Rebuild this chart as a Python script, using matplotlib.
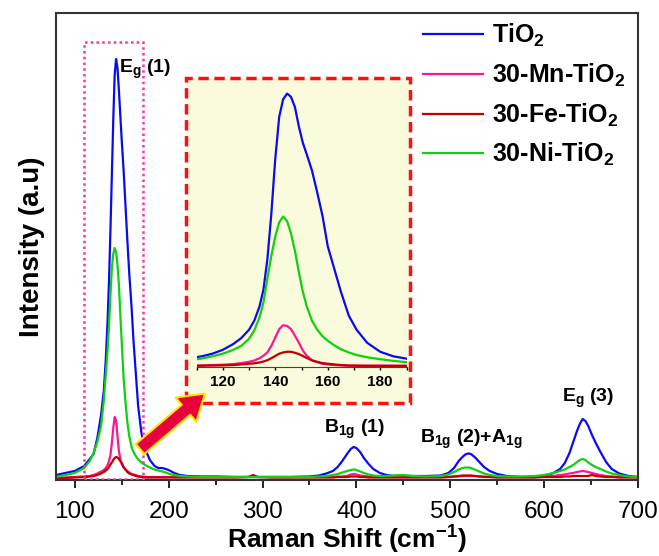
import matplotlib
matplotlib.use("Agg")
import matplotlib.pyplot as plt
from matplotlib.patches import Rectangle, FancyArrowPatch
from matplotlib.ticker import MultipleLocator

plt.rcParams['font.family'] = ['Liberation Sans', 'DejaVu Sans']
plt.rcParams['mathtext.fontset'] = 'custom'
plt.rcParams['mathtext.rm'] = 'Liberation Sans:bold'
plt.rcParams['mathtext.bf'] = 'Liberation Sans:bold'
plt.rcParams['mathtext.default'] = 'bf'

# ---- data (arbitrary intensity units) ----
labels = ['TiO$_2$', '30-Mn-TiO$_2$', '30-Fe-TiO$_2$', '30-Ni-TiO$_2$']
colors = ['#0a0af0', '#ff1493', '#c00000', '#10d010']

shift = [80, 90, 100, 110, 116, 120, 124, 128, 131, 133, 135, 136.5, 138, 139.5,
         141, 142.5, 144, 145.5, 147, 148.5, 150, 152, 154, 156, 158, 160.5, 162.5,
         165, 167.5, 171, 175, 180, 185, 189, 193, 197, 201, 206, 212, 220, 235,
         250, 270, 285, 290, 295, 310, 330, 350, 360, 368, 375, 380, 385, 390, 394,
         397, 400, 404, 408, 413, 418, 425, 432, 440, 450, 460, 475, 490, 498, 504,
         509, 513, 516, 519, 522, 526, 531, 536, 542, 550, 560, 575, 590, 600, 610,
         617, 622, 627, 631, 635, 638, 641, 644, 647, 651, 655, 660, 666, 672, 680,
         690, 700]

tio2 = [5, 7, 9, 14, 21, 26, 42, 65, 90, 120, 160, 200, 250, 305,
        360, 405, 421, 412, 390, 365, 340, 310, 275, 240, 207, 173, 140,
        107, 74, 47, 31, 20, 14, 12, 12, 11, 9.5, 7, 5, 4, 3.5,
        3.5, 3, 3, 3, 3, 3, 3, 3.5, 4.5, 6.5, 9, 13, 19, 26, 31,
        33, 32, 28, 22, 16, 11, 7, 5, 4, 4, 4, 4, 4.5, 7, 12,
        19, 23, 25.5, 26.5, 26, 23, 18, 13, 9, 6, 4, 3, 3, 4, 7,
        11, 17, 27, 38, 49, 56, 61, 59, 54, 45, 37, 28, 18, 11, 6.5,
        4, 3]

mn_tio2 = [2, 2.5, 3, 3.5, 4, 5, 6.5, 8.5, 10, 12, 15, 19, 25, 37,
           52, 63, 60, 44, 29, 21, 16, 12.5, 10.5, 9, 7.5, 6, 5.5,
           5, 4, 3.5, 3, 3, 3, 3, 3, 3, 3, 3, 3, 3, 3,
           3, 3, 3, 3, 3, 3, 3, 3, 3, 3, 3, 3.5, 3.5, 4, 5.5,
           6, 5.5, 4.5, 4, 3.5, 3, 3, 3, 3, 3, 3, 3, 3, 3, 3.5,
           3.5, 4, 4, 4, 4, 4, 3.5, 3.5, 3, 3, 3, 3, 3, 3.5, 4,
           5, 5.5, 6.5, 7, 8, 8.5, 9, 8.5, 8, 7, 6, 5, 4, 3.5, 3,
           3, 3]

fe_tio2 = [1.5, 2, 2.5, 3, 3.5, 4, 5, 6.5, 8, 9.5, 11, 13, 15.5, 17.5,
           20, 22, 23, 22.5, 21, 19, 17, 13, 10.5, 8, 6.5, 5.5, 5,
           4, 3.5, 3, 2.5, 2.5, 2.5, 2.5, 2.5, 2.5, 2.5, 2.5, 2.5, 2.5, 2.5,
           2.5, 2.5, 3, 5, 3, 2.5, 2.5, 2.5, 2.5, 2.5, 2.5, 3, 3, 3, 3.5,
           3.5, 3.5, 3, 3, 2.5, 2.5, 2.5, 2.5, 2.5, 2.5, 2.5, 2.5, 2.5, 3, 3.5,
           4, 4.5, 4.5, 4.5, 4.5, 4, 3.5, 3, 3, 2.5, 2.5, 2.5, 2.5, 3, 3,
           3, 3.5, 3.5, 4, 4, 4, 4, 4, 4, 5, 4, 3.5, 3, 3, 2.5,
           2.5, 2.5]

ni_tio2 = [3, 5, 7, 12, 19, 27, 38, 54, 80, 105, 130, 155, 185, 212,
           226, 232, 228, 215, 195, 166, 138, 102, 78, 58, 44, 33, 28,
           24, 20.5, 17.5, 15, 12.5, 10.5, 9.5, 8.5, 7.5, 6, 5, 4, 3.5, 3,
           3, 3, 3, 3, 3, 3, 3, 3, 3.5, 4, 5, 6, 7.5, 9, 10,
           10.5, 10, 8.5, 7, 5.5, 4.5, 4, 4, 4.5, 5, 4, 3.5, 4, 5.5, 8,
           10.5, 12, 12.5, 12.5, 12, 10.5, 8.5, 6.5, 5, 4, 3.5, 3.5, 4, 5, 7,
           9, 10.5, 13, 15, 18, 20, 21, 20, 17.5, 15, 13, 11, 8.5, 6.5, 5,
           3.5, 3]

# zoomed E_g(1) region shown in the inset
inset_shift = [108, 112, 116, 120, 124, 127, 130, 132, 134, 135.5, 137, 138.5, 140,
               141.5, 143, 144.5, 146, 147.5, 149, 150.5, 152, 154, 156, 158, 160,
               162.5, 165, 168, 171, 175, 180, 185, 192]
inset_tio2 = [12.5, 15, 19, 25, 34, 43, 56, 70, 92, 118, 165, 235, 320,
              385, 412, 421, 416, 400, 370, 345, 327, 302, 268, 232, 185,
              150, 115, 78, 56, 36, 22, 15, 10]
inset_mn = [0.5, 1, 1.5, 2, 3, 4.5, 6.5, 8.5, 12, 16, 21, 31, 44,
            57, 63, 62, 57, 47, 36, 24, 16, 9, 6, 3.5, 2.5,
            1.5, 1, 0.5, 0.5, 0.5, 0.5, 0.5, 0.5]
inset_fe = [0, 0.5, 0.8, 1, 1.5, 2.5, 3.5, 4.2, 5.5, 7, 9, 12, 15.5,
            19, 21, 22, 22, 20.5, 18.5, 15.5, 12.5, 8.5, 6.5, 4.5, 3.5,
            2.5, 1.5, 0.8, 0.5, 0.3, 0.3, 0.2, 0]
inset_ni = [9.5, 11.5, 15, 19, 25, 31, 42, 55, 75, 98, 135, 170, 200,
            222, 231, 224, 205, 178, 145, 115, 92, 70, 56, 46, 39,
            32, 26, 21, 17, 13.5, 10.5, 8, 5]

main_series = [tio2, mn_tio2, fe_tio2, ni_tio2]
inset_series = [inset_tio2, inset_mn, inset_fe, inset_ni]

peak_labels = [(147, 407, 'E$_g$ (1)'), (365, 47, 'B$_{1g}$ (1)'),
               (468, 37, 'B$_{1g}$ (2)+A$_{1g}$'), (619, 78, 'E$_g$ (3)')]

W, H = 659, 556
fig = plt.figure(figsize=(W / 100, H / 100), dpi=100)
ax = fig.add_axes([56 / W, 1 - 480 / H, 582 / W, 467 / H])

for y, c, lab in zip(main_series, colors, labels):
    ax.plot(shift, y, color=c, lw=1.6, label=lab)

ax.set_xlim(80, 700)
ax.set_ylim(0, 467)
ax.xaxis.set_major_locator(MultipleLocator(100))
ax.xaxis.set_minor_locator(MultipleLocator(50))
ax.set_yticks([])
ax.tick_params(axis='x', which='major', direction='out', length=6, width=1.2,
               labelsize=17.5, pad=9)
ax.tick_params(axis='x', which='minor', direction='out', length=3.5, width=1.2)
for s in ax.spines.values():
    s.set_linewidth(1.5)
    s.set_color('#333333')

ax.set_xlabel('Raman Shift (cm$^{-1}$)', fontsize=19, fontweight='bold', labelpad=1)
ax.set_ylabel('Intensity (a.u)', fontsize=20, fontweight='bold', labelpad=8)

for x, y, t in peak_labels:
    ax.text(x, y, t, fontsize=14, fontweight='bold', va='baseline', ha='left')

# dotted box around the E_g(1) peak
ax.add_patch(Rectangle((110, 0.8), 63, 437, fill=False, ls=(0, (1, 1.3)),
                       lw=1.8, edgecolor='#ff3399', zorder=5))

ax.legend(loc='upper left', bbox_to_anchor=(423 / W, 1 - 22 / H),
          bbox_transform=fig.transFigure, frameon=False,
          prop={'weight': 'bold', 'size': 18},
          handlelength=2.4, handletextpad=0.35, labelspacing=0.5,
          borderaxespad=0, borderpad=0)

# inset frame
frame = Rectangle((186 / W, 1 - 403 / H), 224 / W, 325 / H, transform=fig.transFigure,
                  facecolor='#fafadc', edgecolor='#ff1010', lw=2.5,
                  ls=(0, (3, 1.6)), zorder=2)
fig.patches.append(frame)

ins = fig.add_axes([196.5 / W, 1 - 367 / H, 210 / W, 287 / H], zorder=3)
ins.patch.set_alpha(0)
for y, c in zip(inset_series, colors):
    ins.plot(inset_shift, y, color=c, lw=1.6)
ins.set_xlim(110, 190)
ins.set_ylim(-1.5, 442)
ins.set_yticks([])
for k in ['top', 'right', 'left']:
    ins.spines[k].set_visible(False)
ins.spines['bottom'].set_color('#444444')
ins.xaxis.set_major_locator(MultipleLocator(20))
ins.xaxis.set_minor_locator(MultipleLocator(10))
ins.tick_params(axis='x', which='both', direction='out', length=2.5, width=1,
                labelsize=11, pad=3)
for t in ins.get_xticklabels():
    t.set_fontweight('bold')

arrow = FancyArrowPatch((140 / W, 1 - 449 / H), (205 / W, 1 - 393.5 / H),
                        transform=fig.transFigure,
                        arrowstyle='simple,head_length=18,head_width=23,tail_width=9.5',
                        mutation_scale=1, shrinkA=0, shrinkB=0,
                        facecolor='#e8003c', edgecolor='#ffe600', lw=1.5, zorder=4)
fig.patches.append(arrow)

fig.savefig('out.png', dpi=100)
